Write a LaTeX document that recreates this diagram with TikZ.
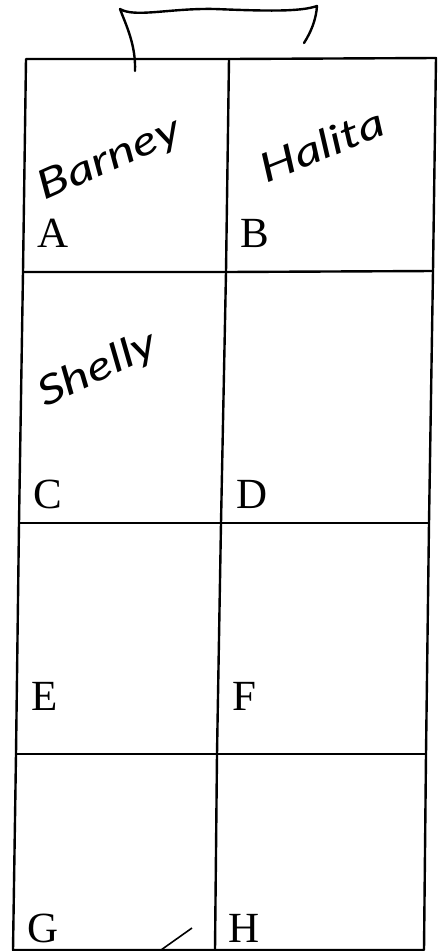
\documentclass[tikz,border=0pt]{standalone}
\usepackage{fontspec}
\setmainfont{Liberation Serif}
\newfontfamily\handfont{Lato Italic}
\newcommand\handtext[1]{\scalebox{1.3}[1]{#1}}
\begin{document}
\begin{tikzpicture}[x=1pt,y=-1pt,
  gridline/.style={line width=2.4pt,line join=round,line cap=round},
  pen/.style={line width=2.4pt,line cap=round,line join=round},
  cellletter/.style={anchor=base west,inner sep=0pt,font=\fontsize{43}{48}\selectfont},
  hand/.style={inner sep=0pt,font=\handfont\fontsize{40}{44}\selectfont}]
\useasboundingbox (0,0) rectangle (441,951);
% grid corners
\coordinate (L0) at (26,59);  \coordinate (M0) at (229,59);  \coordinate (R0) at (436,58);
\coordinate (L1) at (23,272); \coordinate (M1) at (226,272); \coordinate (R1) at (433,271);
\coordinate (L2) at (19,523); \coordinate (M2) at (221,523); \coordinate (R2) at (429,523);
\coordinate (L3) at (16,754); \coordinate (M3) at (217,754); \coordinate (R3) at (426,754);
\coordinate (L4) at (13,950); \coordinate (M4) at (215,950); \coordinate (R4) at (424,950);
\draw[gridline] (L0) -- (L1) -- (L2) -- (L3) -- (L4) -- (M4) -- (R4) -- (R3) -- (R2) -- (R1) -- (R0) -- (M0) -- cycle;
\draw[gridline] (M0) -- (M1) -- (M2) -- (M3) -- (M4);
\draw[gridline] (L1) -- (M1) -- (R1);
\draw[gridline] (L2) -- (M2) -- (R2);
\draw[gridline] (L3) -- (M3) -- (R3);
% handle
\coordinate (h1) at (135,71);
\coordinate (h2) at (120,9);
\coordinate (h3) at (317,6);
\coordinate (h4) at (304,43);
\draw[pen] (h1) .. controls (136,45) and (126,25) .. (h2)
  .. controls (135,18) and (170,8) .. (215,9)
  .. controls (265,11) and (300,12) .. (h3)
  .. controls (316,20) and (311,32) .. (h4);
% cell letters
\node[cellletter] (A) at (37,247) {A};
\node[cellletter] (B) at (240,247) {B};
\node[cellletter] (C) at (33,508) {C};
\node[cellletter] (D) at (236,508) {D};
\node[cellletter] (E) at (31,710) {E};
\node[cellletter] (F) at (232,710) {F};
\node[cellletter] (G) at (27,942) {G};
\node[cellletter] (H) at (228,942) {H};
% handwritten names
\node[hand,rotate=24] (barney) at (110,160) {\handtext{Barney}};
\node[hand,rotate=22] (halita) at (322,145) {\handtext{Halita}};
\node[hand,rotate=25] (shelly) at (98,370) {\handtext{Shelly}};
% stray pen mark
\coordinate (s1) at (192,928);
\coordinate (s2) at (161,950);
\draw[line width=1.6pt] (s1) -- (s2);
\end{tikzpicture}
\end{document}
